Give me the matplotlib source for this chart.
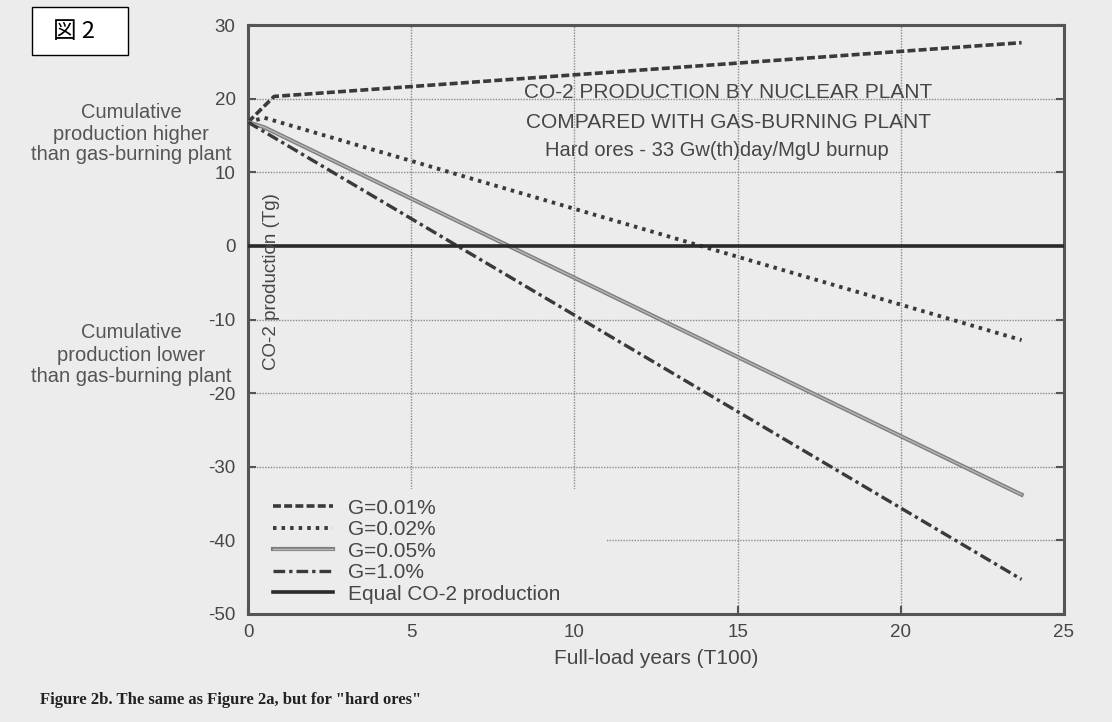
import matplotlib
matplotlib.use("Agg")
import matplotlib.pyplot as plt
from matplotlib.patches import Rectangle
from matplotlib.legend_handler import HandlerTuple

plt.rcParams['font.family'] = ['Liberation Sans', 'Noto Sans CJK JP', 'DejaVu Sans']
plt.rcParams['axes.unicode_minus'] = False

# ---- data ----
g001_x = [0.0, 0.8, 23.7]
g001_y = [16.8, 20.3, 27.6]
g002_x = [0.0, 0.5, 23.7]
g002_y = [16.8, 17.4, -12.8]
g005_x = [0.0, 0.5, 23.7]
g005_y = [16.8, 16.1, -33.8]
g1_x = [0.0, 23.7]
g1_y = [16.8, -45.3]
equal_x = [0.0, 25.0]
equal_y = [0.0, 0.0]

labels = ["G=0.01%", "G=0.02%", "G=0.05%", "G=1.0%", "Equal CO-2 production"]
xticks = [0, 5, 10, 15, 20, 25]
yticks = [30, 20, 10, 0, -10, -20, -30, -40, -50]
grid_x = [5, 10, 15, 20]
grid_y = [20, 10, -10, -20, -30, -40]
upper_note = ["Cumulative", "production higher", "than gas-burning plant"]
lower_note = ["Cumulative", "production lower", "than gas-burning plant"]

bg = '#ececec'
ink = '#3a3a3a'
txt = '#464646'

fig = plt.figure(figsize=(11.12, 7.22), dpi=100, facecolor=bg)
ax = fig.add_axes([248/1112, 1-614/722, (1064-248)/1112, (614-25)/722])
ax.set_facecolor(bg)

for gx in grid_x:
    ax.axvline(gx, color='#8a8a8a', lw=1.0, ls=(0, (1, 1)), zorder=1)
for gy in grid_y:
    ax.axhline(gy, color='#8a8a8a', lw=1.0, ls=(0, (1, 1)), zorder=1)

# blank area behind the legend (covers the grid as in the original)
ax.add_patch(Rectangle((0, -50), 11.0, 17.0, facecolor=bg, edgecolor='none', zorder=2))

l1, = ax.plot(g001_x, g001_y, color=ink, lw=2.6, ls=(0, (2.2, 0.9)), zorder=3)
l2, = ax.plot(g002_x, g002_y, color=ink, lw=2.8, ls=(0, (0.9, 1.3)), zorder=3)
l3a, = ax.plot(g005_x, g005_y, color='#7e7e7e', lw=3.0, ls='-', zorder=3)
l3b, = ax.plot(g005_x, g005_y, color='#b8b8b8', lw=1.0, ls='-', zorder=3)
l4, = ax.plot(g1_x, g1_y, color=ink, lw=2.4, ls=(0, (3.5, 1.2, 1.0, 1.2)), zorder=3)
l5, = ax.plot(equal_x, equal_y, color='#2a2a2a', lw=2.6, ls='-', zorder=4)

ax.set_xlim(0, 25)
ax.set_ylim(-50, 30)
ax.set_xticks(xticks)
ax.set_yticks(yticks)
ax.tick_params(direction='in', length=6, width=1.5, colors='#555555',
               labelsize=13.5, labelcolor=txt, top=False, right=True)
ax.tick_params(axis='x', pad=7)
ax.tick_params(axis='y', pad=9)
for s in ax.spines.values():
    s.set_color('#555555')
    s.set_linewidth(2.2)

ax.set_xlabel("Full-load years (T100)", fontsize=15, color=txt, labelpad=6)

leg = ax.legend([l1, l2, (l3a, l3b), l4, l5], labels, loc='upper left',
                bbox_to_anchor=(0.02, 0.21), frameon=False, fontsize=15,
                handlelength=2.9, handletextpad=0.7, labelspacing=0.12,
                borderpad=0.4, borderaxespad=0.0,
                handler_map={tuple: HandlerTuple(ndivide=1, pad=0)})
for t in leg.get_texts():
    t.set_color(txt)
leg.set_zorder(5)

# in-plot title
cx = (728 - 248) / 816
ax.text(cx, 1-(93-25)/589, "CO-2 PRODUCTION BY NUCLEAR PLANT", transform=ax.transAxes,
        ha='center', va='center', fontsize=15, color=txt, zorder=6)
ax.text(cx, 1-(122-25)/589, "COMPARED WITH GAS-BURNING PLANT", transform=ax.transAxes,
        ha='center', va='center', fontsize=15, color=txt, zorder=6)
ax.text((717-248)/816, 1-(150-25)/589, "Hard ores - 33 Gw(th)day/MgU burnup",
        transform=ax.transAxes, ha='center', va='center', fontsize=14.5, color=txt, zorder=6)

# y label inside the axes
fig.text(272/1112, 1-282/722, "CO-2 production (Tg)", rotation=90, ha='center',
         va='center', fontsize=13.5, color=txt)

# left annotations (one text per line, as in the original)
for line, ypx in zip(upper_note, [113, 134, 155]):
    fig.text(131/1112, 1-ypx/722, line, ha='center', va='center',
             fontsize=14.5, color='#555555')
for line, ypx in zip(lower_note, [333, 355, 377]):
    fig.text(131/1112, 1-ypx/722, line, ha='center', va='center',
             fontsize=14.5, color='#555555')

# figure label box
fig.patches.append(Rectangle((32/1112, 1-55/722), 96/1112, 48/722, transform=fig.transFigure,
                             facecolor='white', edgecolor='black', lw=1.0))
fig.text(74/1112, 1-32/722, "図 2", ha='center', va='center', fontsize=17,
         color='black', family=['Noto Sans CJK JP', 'DejaVu Sans'])

# caption
fig.text(40/1112, 1-700/722, 'Figure 2b. The same as Figure 2a, but for "hard ores"',
         ha='left', va='center', fontsize=12, fontweight='bold',
         family=['Liberation Serif', 'DejaVu Serif'], color='#222222')

fig.savefig("out.png", dpi=100, facecolor=bg)
